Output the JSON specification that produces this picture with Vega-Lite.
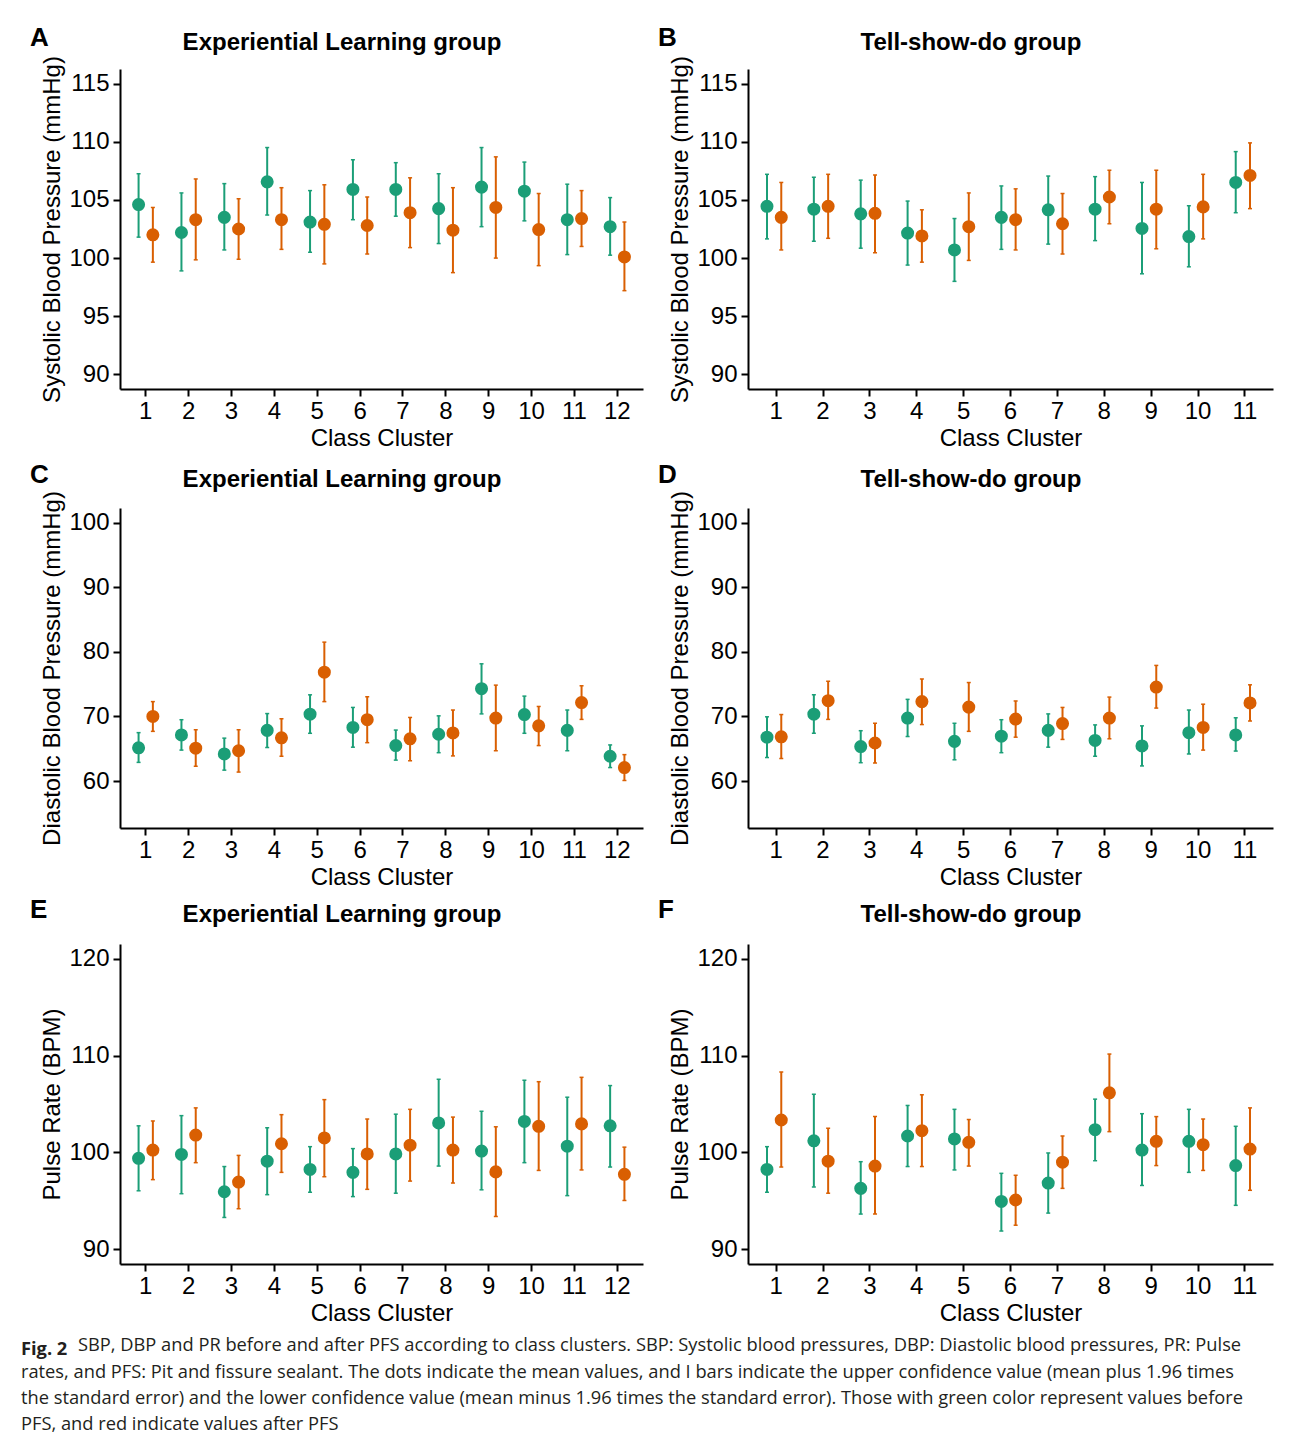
{
  "$schema": "https://vega.github.io/schema/vega-lite/v6.json",
  "padding": {"left": 20, "top": 24, "right": 5, "bottom": 5},
  "background": "white",
  "datasets": {
    "d": [
      {"p":"A","c":1,"t":"Before","m":104.6,"lo":101.8,"hi":107.25},{"p":"A","c":1,"t":"After","m":102.0,"lo":99.65,"hi":104.35},
      {"p":"A","c":2,"t":"Before","m":102.2,"lo":98.9,"hi":105.6},{"p":"A","c":2,"t":"After","m":103.3,"lo":99.85,"hi":106.8},
      {"p":"A","c":3,"t":"Before","m":103.5,"lo":100.7,"hi":106.4},{"p":"A","c":3,"t":"After","m":102.5,"lo":99.9,"hi":105.1},
      {"p":"A","c":4,"t":"Before","m":106.55,"lo":103.7,"hi":109.5},{"p":"A","c":4,"t":"After","m":103.3,"lo":100.75,"hi":106.05},
      {"p":"A","c":5,"t":"Before","m":103.1,"lo":100.5,"hi":105.8},{"p":"A","c":5,"t":"After","m":102.9,"lo":99.5,"hi":106.3},
      {"p":"A","c":6,"t":"Before","m":105.9,"lo":103.3,"hi":108.45},{"p":"A","c":6,"t":"After","m":102.8,"lo":100.35,"hi":105.25},
      {"p":"A","c":7,"t":"Before","m":105.9,"lo":103.6,"hi":108.2},{"p":"A","c":7,"t":"After","m":103.9,"lo":100.9,"hi":106.9},
      {"p":"A","c":8,"t":"Before","m":104.25,"lo":101.25,"hi":107.25},{"p":"A","c":8,"t":"After","m":102.4,"lo":98.75,"hi":106.05},
      {"p":"A","c":9,"t":"Before","m":106.1,"lo":102.7,"hi":109.5},{"p":"A","c":9,"t":"After","m":104.35,"lo":100.0,"hi":108.7},
      {"p":"A","c":10,"t":"Before","m":105.75,"lo":103.2,"hi":108.25},{"p":"A","c":10,"t":"After","m":102.45,"lo":99.35,"hi":105.55},
      {"p":"A","c":11,"t":"Before","m":103.3,"lo":100.3,"hi":106.35},{"p":"A","c":11,"t":"After","m":103.4,"lo":101.0,"hi":105.8},
      {"p":"A","c":12,"t":"Before","m":102.7,"lo":100.25,"hi":105.2},{"p":"A","c":12,"t":"After","m":100.1,"lo":97.2,"hi":103.1},

      {"p":"B","c":1,"t":"Before","m":104.45,"lo":101.65,"hi":107.2},{"p":"B","c":1,"t":"After","m":103.5,"lo":100.7,"hi":106.5},
      {"p":"B","c":2,"t":"Before","m":104.2,"lo":101.45,"hi":106.95},{"p":"B","c":2,"t":"After","m":104.45,"lo":101.7,"hi":107.2},
      {"p":"B","c":3,"t":"Before","m":103.8,"lo":100.85,"hi":106.7},{"p":"B","c":3,"t":"After","m":103.85,"lo":100.45,"hi":107.15},
      {"p":"B","c":4,"t":"Before","m":102.15,"lo":99.4,"hi":104.9},{"p":"B","c":4,"t":"After","m":101.9,"lo":99.65,"hi":104.15},
      {"p":"B","c":5,"t":"Before","m":100.7,"lo":98.0,"hi":103.4},{"p":"B","c":5,"t":"After","m":102.7,"lo":99.8,"hi":105.6},
      {"p":"B","c":6,"t":"Before","m":103.5,"lo":100.75,"hi":106.2},{"p":"B","c":6,"t":"After","m":103.3,"lo":100.7,"hi":105.95},
      {"p":"B","c":7,"t":"Before","m":104.15,"lo":101.2,"hi":107.05},{"p":"B","c":7,"t":"After","m":102.95,"lo":100.35,"hi":105.55},
      {"p":"B","c":8,"t":"Before","m":104.2,"lo":101.5,"hi":107.0},{"p":"B","c":8,"t":"After","m":105.25,"lo":102.95,"hi":107.55},
      {"p":"B","c":9,"t":"Before","m":102.55,"lo":98.65,"hi":106.5},{"p":"B","c":9,"t":"After","m":104.2,"lo":100.8,"hi":107.55},
      {"p":"B","c":10,"t":"Before","m":101.85,"lo":99.25,"hi":104.5},{"p":"B","c":10,"t":"After","m":104.4,"lo":101.65,"hi":107.2},
      {"p":"B","c":11,"t":"Before","m":106.5,"lo":103.9,"hi":109.15},{"p":"B","c":11,"t":"After","m":107.1,"lo":104.25,"hi":109.9},

      {"p":"C","c":1,"t":"Before","m":65.15,"lo":62.9,"hi":67.5},{"p":"C","c":1,"t":"After","m":70.0,"lo":67.7,"hi":72.3},
      {"p":"C","c":2,"t":"Before","m":67.15,"lo":64.8,"hi":69.5},{"p":"C","c":2,"t":"After","m":65.1,"lo":62.3,"hi":67.95},
      {"p":"C","c":3,"t":"Before","m":64.2,"lo":61.7,"hi":66.65},{"p":"C","c":3,"t":"After","m":64.7,"lo":61.4,"hi":67.95},
      {"p":"C","c":4,"t":"Before","m":67.85,"lo":65.2,"hi":70.45},{"p":"C","c":4,"t":"After","m":66.7,"lo":63.85,"hi":69.65},
      {"p":"C","c":5,"t":"Before","m":70.35,"lo":67.4,"hi":73.35},{"p":"C","c":5,"t":"After","m":76.85,"lo":72.3,"hi":81.5},
      {"p":"C","c":6,"t":"Before","m":68.3,"lo":65.25,"hi":71.4},{"p":"C","c":6,"t":"After","m":69.5,"lo":65.95,"hi":73.05},
      {"p":"C","c":7,"t":"Before","m":65.5,"lo":63.25,"hi":67.9},{"p":"C","c":7,"t":"After","m":66.55,"lo":63.15,"hi":69.85},
      {"p":"C","c":8,"t":"Before","m":67.25,"lo":64.4,"hi":70.1},{"p":"C","c":8,"t":"After","m":67.45,"lo":63.9,"hi":71.0},
      {"p":"C","c":9,"t":"Before","m":74.3,"lo":70.4,"hi":78.15},{"p":"C","c":9,"t":"After","m":69.75,"lo":64.7,"hi":74.85},
      {"p":"C","c":10,"t":"Before","m":70.3,"lo":67.4,"hi":73.15},{"p":"C","c":10,"t":"After","m":68.55,"lo":65.5,"hi":71.55},
      {"p":"C","c":11,"t":"Before","m":67.85,"lo":64.7,"hi":71.0},{"p":"C","c":11,"t":"After","m":72.15,"lo":69.55,"hi":74.75},
      {"p":"C","c":12,"t":"Before","m":63.85,"lo":62.1,"hi":65.6},{"p":"C","c":12,"t":"After","m":62.1,"lo":60.1,"hi":64.1},

      {"p":"D","c":1,"t":"Before","m":66.8,"lo":63.65,"hi":69.95},{"p":"D","c":1,"t":"After","m":66.85,"lo":63.5,"hi":70.3},
      {"p":"D","c":2,"t":"Before","m":70.35,"lo":67.4,"hi":73.35},{"p":"D","c":2,"t":"After","m":72.45,"lo":69.55,"hi":75.45},
      {"p":"D","c":3,"t":"Before","m":65.35,"lo":62.85,"hi":67.8},{"p":"D","c":3,"t":"After","m":65.9,"lo":62.8,"hi":68.95},
      {"p":"D","c":4,"t":"Before","m":69.75,"lo":66.9,"hi":72.65},{"p":"D","c":4,"t":"After","m":72.3,"lo":68.75,"hi":75.8},
      {"p":"D","c":5,"t":"Before","m":66.15,"lo":63.3,"hi":68.95},{"p":"D","c":5,"t":"After","m":71.45,"lo":67.7,"hi":75.25},
      {"p":"D","c":6,"t":"Before","m":66.95,"lo":64.4,"hi":69.5},{"p":"D","c":6,"t":"After","m":69.6,"lo":66.8,"hi":72.4},
      {"p":"D","c":7,"t":"Before","m":67.85,"lo":65.25,"hi":70.4},{"p":"D","c":7,"t":"After","m":68.9,"lo":66.45,"hi":71.4},
      {"p":"D","c":8,"t":"Before","m":66.3,"lo":63.85,"hi":68.7},{"p":"D","c":8,"t":"After","m":69.75,"lo":66.55,"hi":73.0},
      {"p":"D","c":9,"t":"Before","m":65.45,"lo":62.35,"hi":68.55},{"p":"D","c":9,"t":"After","m":74.55,"lo":71.3,"hi":77.9},
      {"p":"D","c":10,"t":"Before","m":67.5,"lo":64.2,"hi":71.0},{"p":"D","c":10,"t":"After","m":68.3,"lo":64.8,"hi":71.9},
      {"p":"D","c":11,"t":"Before","m":67.15,"lo":64.65,"hi":69.8},{"p":"D","c":11,"t":"After","m":72.1,"lo":69.3,"hi":74.9},

      {"p":"E","c":1,"t":"Before","m":99.4,"lo":96.05,"hi":102.75},{"p":"E","c":1,"t":"After","m":100.25,"lo":97.2,"hi":103.25},
      {"p":"E","c":2,"t":"Before","m":99.8,"lo":95.75,"hi":103.8},{"p":"E","c":2,"t":"After","m":101.8,"lo":98.95,"hi":104.6},
      {"p":"E","c":3,"t":"Before","m":95.95,"lo":93.3,"hi":98.55},{"p":"E","c":3,"t":"After","m":96.95,"lo":94.2,"hi":99.7},
      {"p":"E","c":4,"t":"Before","m":99.1,"lo":95.65,"hi":102.55},{"p":"E","c":4,"t":"After","m":100.9,"lo":97.95,"hi":103.9},
      {"p":"E","c":5,"t":"Before","m":98.25,"lo":95.9,"hi":100.6},{"p":"E","c":5,"t":"After","m":101.5,"lo":97.5,"hi":105.45},
      {"p":"E","c":6,"t":"Before","m":97.95,"lo":95.45,"hi":100.4},{"p":"E","c":6,"t":"After","m":99.85,"lo":96.2,"hi":103.45},
      {"p":"E","c":7,"t":"Before","m":99.85,"lo":95.8,"hi":103.95},{"p":"E","c":7,"t":"After","m":100.75,"lo":97.05,"hi":104.45},
      {"p":"E","c":8,"t":"Before","m":103.05,"lo":98.6,"hi":107.55},{"p":"E","c":8,"t":"After","m":100.25,"lo":96.85,"hi":103.65},
      {"p":"E","c":9,"t":"Before","m":100.15,"lo":96.15,"hi":104.25},{"p":"E","c":9,"t":"After","m":98.0,"lo":93.4,"hi":102.65},
      {"p":"E","c":10,"t":"Before","m":103.2,"lo":98.95,"hi":107.45},{"p":"E","c":10,"t":"After","m":102.7,"lo":98.15,"hi":107.3},
      {"p":"E","c":11,"t":"Before","m":100.65,"lo":95.55,"hi":105.7},{"p":"E","c":11,"t":"After","m":102.95,"lo":98.2,"hi":107.75},
      {"p":"E","c":12,"t":"Before","m":102.75,"lo":98.5,"hi":106.9},{"p":"E","c":12,"t":"After","m":97.75,"lo":95.05,"hi":100.55},

      {"p":"F","c":1,"t":"Before","m":98.25,"lo":95.9,"hi":100.6},{"p":"F","c":1,"t":"After","m":103.35,"lo":98.5,"hi":108.3},
      {"p":"F","c":2,"t":"Before","m":101.2,"lo":96.45,"hi":106.0},{"p":"F","c":2,"t":"After","m":99.1,"lo":95.8,"hi":102.5},
      {"p":"F","c":3,"t":"Before","m":96.3,"lo":93.65,"hi":99.05},{"p":"F","c":3,"t":"After","m":98.6,"lo":93.65,"hi":103.7},
      {"p":"F","c":4,"t":"Before","m":101.7,"lo":98.55,"hi":104.85},{"p":"F","c":4,"t":"After","m":102.25,"lo":98.55,"hi":105.95},
      {"p":"F","c":5,"t":"Before","m":101.4,"lo":98.2,"hi":104.45},{"p":"F","c":5,"t":"After","m":101.05,"lo":98.6,"hi":103.4},
      {"p":"F","c":6,"t":"Before","m":94.95,"lo":91.9,"hi":97.85},{"p":"F","c":6,"t":"After","m":95.1,"lo":92.5,"hi":97.65},
      {"p":"F","c":7,"t":"Before","m":96.85,"lo":93.75,"hi":99.95},{"p":"F","c":7,"t":"After","m":99.0,"lo":96.3,"hi":101.7},
      {"p":"F","c":8,"t":"Before","m":102.35,"lo":99.15,"hi":105.5},{"p":"F","c":8,"t":"After","m":106.15,"lo":102.15,"hi":110.15},
      {"p":"F","c":9,"t":"Before","m":100.25,"lo":96.6,"hi":104.0},{"p":"F","c":9,"t":"After","m":101.15,"lo":98.65,"hi":103.7},
      {"p":"F","c":10,"t":"Before","m":101.15,"lo":97.95,"hi":104.45},{"p":"F","c":10,"t":"After","m":100.8,"lo":98.15,"hi":103.45},
      {"p":"F","c":11,"t":"Before","m":98.65,"lo":94.55,"hi":102.7},{"p":"F","c":11,"t":"After","m":100.35,"lo":96.1,"hi":104.6}
    ]
  },
  "data": {"name": "d"},
  "title": {
    "text": "Fig. 2",
    "subtitle": [
      "\u200b\u00a0\u00a0\u00a0\u00a0\u00a0\u00a0\u00a0\u00a0\u00a0\u00a0\u00a0\u00a0SBP, DBP and PR before and after PFS according to class clusters. SBP: Systolic blood pressures, DBP: Diastolic blood pressures, PR: Pulse",
      "rates, and PFS: Pit and fissure sealant. The dots indicate the mean values, and I bars indicate the upper confidence value (mean plus 1.96 times",
      "the standard error) and the lower confidence value (mean minus 1.96 times the standard error). Those with green color represent values before",
      "PFS, and red indicate values after PFS"
    ],
    "orient": "bottom",
    "anchor": "start",
    "frame": "bounds",
    "font": "Open Sans",
    "fontSize": 18.3,
    "fontWeight": "bold",
    "color": "#231f20",
    "subtitleFont": "Open Sans",
    "subtitleFontSize": 18.3,
    "subtitleColor": "#231f20",
    "subtitleLineHeight": 26.3,
    "subtitlePadding": -21.5,
    "offset": 15.5,
    "dx": -9
  },
  "spacing": 8,
  "vconcat": [
    {
      "spacing": 12,
      "vconcat": [
        {
          "spacing": 14,
          "hconcat": [
            {
              "title": {"text": "A", "anchor": "start", "frame": "bounds", "fontSize": 26, "offset": -20, "dx": -11},
              "hconcat": [{
                "width": 523, "height": 320,
                "title": {"text": "Experiential Learning group", "anchor": "middle", "frame": "bounds", "offset": 1},
                "transform": [{"filter": "datum.p == 'A'"}],
                "encoding": {
                  "x": {"field": "c", "type": "ordinal", "scale": {"type": "band", "paddingInner": 0, "paddingOuter": 0.1}, "axis": {"title": "Class Cluster", "labelAngle": 0}},
                  "xOffset": {"field": "t", "type": "nominal", "scale": {"type": "point", "padding": 1.5, "domain": ["Before", "After"]}},
                  "color": {"field": "t", "type": "nominal", "scale": {"domain": ["Before", "After"], "range": ["#1B9E77", "#D95F02"]}, "legend": null}
                },
                "layer": [
                  {"mark": {"type": "rule", "strokeWidth": 2}, "encoding": {"y": {"field": "lo", "type": "quantitative", "scale": {"domain": [88.75, 116.25], "nice": false, "zero": false}, "axis": {"title": "Systolic Blood Pressure (mmHg)", "values": [90, 95, 100, 105, 110, 115]}}, "y2": {"field": "hi"}}},
                  {"mark": {"type": "tick", "size": 4, "thickness": 1.5, "opacity": 1}, "encoding": {"y": {"field": "lo", "type": "quantitative"}}},
                  {"mark": {"type": "tick", "size": 4, "thickness": 1.5, "opacity": 1}, "encoding": {"y": {"field": "hi", "type": "quantitative"}}},
                  {"mark": {"type": "circle", "size": 170, "opacity": 1}, "encoding": {"y": {"field": "m", "type": "quantitative"}}}
                ]
              }]
            },
            {
              "title": {"text": "B", "anchor": "start", "frame": "bounds", "fontSize": 26, "offset": -20, "dx": -11},
              "hconcat": [{
                "width": 525, "height": 320,
                "title": {"text": "Tell-show-do group", "anchor": "middle", "frame": "bounds", "offset": 1},
                "transform": [{"filter": "datum.p == 'B'"}],
                "encoding": {
                  "x": {"field": "c", "type": "ordinal", "scale": {"type": "band", "paddingInner": 0, "paddingOuter": 0.1}, "axis": {"title": "Class Cluster", "labelAngle": 0}},
                  "xOffset": {"field": "t", "type": "nominal", "scale": {"type": "point", "padding": 1.5, "domain": ["Before", "After"]}},
                  "color": {"field": "t", "type": "nominal", "scale": {"domain": ["Before", "After"], "range": ["#1B9E77", "#D95F02"]}, "legend": null}
                },
                "layer": [
                  {"mark": {"type": "rule", "strokeWidth": 2}, "encoding": {"y": {"field": "lo", "type": "quantitative", "scale": {"domain": [88.75, 116.25], "nice": false, "zero": false}, "axis": {"title": "Systolic Blood Pressure (mmHg)", "values": [90, 95, 100, 105, 110, 115]}}, "y2": {"field": "hi"}}},
                  {"mark": {"type": "tick", "size": 4, "thickness": 1.5, "opacity": 1}, "encoding": {"y": {"field": "lo", "type": "quantitative"}}},
                  {"mark": {"type": "tick", "size": 4, "thickness": 1.5, "opacity": 1}, "encoding": {"y": {"field": "hi", "type": "quantitative"}}},
                  {"mark": {"type": "circle", "size": 170, "opacity": 1}, "encoding": {"y": {"field": "m", "type": "quantitative"}}}
                ]
              }]
            }
          ]
        },
        {
          "spacing": 14,
          "hconcat": [
            {
              "title": {"text": "C", "anchor": "start", "frame": "bounds", "fontSize": 26, "offset": -20, "dx": -11},
              "hconcat": [{
                "width": 523, "height": 320,
                "title": {"text": "Experiential Learning group", "anchor": "middle", "frame": "bounds", "offset": -1.5},
                "transform": [{"filter": "datum.p == 'C'"}],
                "encoding": {
                  "x": {"field": "c", "type": "ordinal", "scale": {"type": "band", "paddingInner": 0, "paddingOuter": 0.1}, "axis": {"title": "Class Cluster", "labelAngle": 0}},
                  "xOffset": {"field": "t", "type": "nominal", "scale": {"type": "point", "padding": 1.5, "domain": ["Before", "After"]}},
                  "color": {"field": "t", "type": "nominal", "scale": {"domain": ["Before", "After"], "range": ["#1B9E77", "#D95F02"]}, "legend": null}
                },
                "layer": [
                  {"mark": {"type": "rule", "strokeWidth": 2}, "encoding": {"y": {"field": "lo", "type": "quantitative", "scale": {"domain": [52.75, 102.25], "nice": false, "zero": false}, "axis": {"title": "Diastolic Blood Pressure (mmHg)", "values": [60, 70, 80, 90, 100]}}, "y2": {"field": "hi"}}},
                  {"mark": {"type": "tick", "size": 4, "thickness": 1.5, "opacity": 1}, "encoding": {"y": {"field": "lo", "type": "quantitative"}}},
                  {"mark": {"type": "tick", "size": 4, "thickness": 1.5, "opacity": 1}, "encoding": {"y": {"field": "hi", "type": "quantitative"}}},
                  {"mark": {"type": "circle", "size": 170, "opacity": 1}, "encoding": {"y": {"field": "m", "type": "quantitative"}}}
                ]
              }]
            },
            {
              "title": {"text": "D", "anchor": "start", "frame": "bounds", "fontSize": 26, "offset": -20, "dx": -11},
              "hconcat": [{
                "width": 525, "height": 320,
                "title": {"text": "Tell-show-do group", "anchor": "middle", "frame": "bounds", "offset": -1.5},
                "transform": [{"filter": "datum.p == 'D'"}],
                "encoding": {
                  "x": {"field": "c", "type": "ordinal", "scale": {"type": "band", "paddingInner": 0, "paddingOuter": 0.1}, "axis": {"title": "Class Cluster", "labelAngle": 0}},
                  "xOffset": {"field": "t", "type": "nominal", "scale": {"type": "point", "padding": 1.5, "domain": ["Before", "After"]}},
                  "color": {"field": "t", "type": "nominal", "scale": {"domain": ["Before", "After"], "range": ["#1B9E77", "#D95F02"]}, "legend": null}
                },
                "layer": [
                  {"mark": {"type": "rule", "strokeWidth": 2}, "encoding": {"y": {"field": "lo", "type": "quantitative", "scale": {"domain": [52.75, 102.25], "nice": false, "zero": false}, "axis": {"title": "Diastolic Blood Pressure (mmHg)", "values": [60, 70, 80, 90, 100]}}, "y2": {"field": "hi"}}},
                  {"mark": {"type": "tick", "size": 4, "thickness": 1.5, "opacity": 1}, "encoding": {"y": {"field": "lo", "type": "quantitative"}}},
                  {"mark": {"type": "tick", "size": 4, "thickness": 1.5, "opacity": 1}, "encoding": {"y": {"field": "hi", "type": "quantitative"}}},
                  {"mark": {"type": "circle", "size": 170, "opacity": 1}, "encoding": {"y": {"field": "m", "type": "quantitative"}}}
                ]
              }]
            }
          ]
        }
      ]
    },
    {
      "spacing": 14,
      "hconcat": [
        {
          "title": {"text": "E", "anchor": "start", "frame": "bounds", "fontSize": 26, "offset": -20, "dx": -11},
          "hconcat": [{
            "width": 523, "height": 320,
            "title": {"text": "Experiential Learning group", "anchor": "middle", "frame": "bounds", "offset": 17},
            "transform": [{"filter": "datum.p == 'E'"}],
            "encoding": {
              "x": {"field": "c", "type": "ordinal", "scale": {"type": "band", "paddingInner": 0, "paddingOuter": 0.1}, "axis": {"title": "Class Cluster", "labelAngle": 0}},
              "xOffset": {"field": "t", "type": "nominal", "scale": {"type": "point", "padding": 1.5, "domain": ["Before", "After"]}},
              "color": {"field": "t", "type": "nominal", "scale": {"domain": ["Before", "After"], "range": ["#1B9E77", "#D95F02"]}, "legend": null}
            },
            "layer": [
              {"mark": {"type": "rule", "strokeWidth": 2}, "encoding": {"y": {"field": "lo", "type": "quantitative", "scale": {"domain": [88.5, 121.5], "nice": false, "zero": false}, "axis": {"title": "Pulse Rate (BPM)", "values": [90, 100, 110, 120]}}, "y2": {"field": "hi"}}},
              {"mark": {"type": "tick", "size": 4, "thickness": 1.5, "opacity": 1}, "encoding": {"y": {"field": "lo", "type": "quantitative"}}},
              {"mark": {"type": "tick", "size": 4, "thickness": 1.5, "opacity": 1}, "encoding": {"y": {"field": "hi", "type": "quantitative"}}},
              {"mark": {"type": "circle", "size": 170, "opacity": 1}, "encoding": {"y": {"field": "m", "type": "quantitative"}}}
            ]
          }]
        },
        {
          "title": {"text": "F", "anchor": "start", "frame": "bounds", "fontSize": 26, "offset": -20, "dx": -11},
          "hconcat": [{
            "width": 525, "height": 320,
            "title": {"text": "Tell-show-do group", "anchor": "middle", "frame": "bounds", "offset": 17},
            "transform": [{"filter": "datum.p == 'F'"}],
            "encoding": {
              "x": {"field": "c", "type": "ordinal", "scale": {"type": "band", "paddingInner": 0, "paddingOuter": 0.1}, "axis": {"title": "Class Cluster", "labelAngle": 0}},
              "xOffset": {"field": "t", "type": "nominal", "scale": {"type": "point", "padding": 1.5, "domain": ["Before", "After"]}},
              "color": {"field": "t", "type": "nominal", "scale": {"domain": ["Before", "After"], "range": ["#1B9E77", "#D95F02"]}, "legend": null}
            },
            "layer": [
              {"mark": {"type": "rule", "strokeWidth": 2}, "encoding": {"y": {"field": "lo", "type": "quantitative", "scale": {"domain": [88.5, 121.5], "nice": false, "zero": false}, "axis": {"title": "Pulse Rate (BPM)", "values": [90, 100, 110, 120]}}, "y2": {"field": "hi"}}},
              {"mark": {"type": "tick", "size": 4, "thickness": 1.5, "opacity": 1}, "encoding": {"y": {"field": "lo", "type": "quantitative"}}},
              {"mark": {"type": "tick", "size": 4, "thickness": 1.5, "opacity": 1}, "encoding": {"y": {"field": "hi", "type": "quantitative"}}},
              {"mark": {"type": "circle", "size": 170, "opacity": 1}, "encoding": {"y": {"field": "m", "type": "quantitative"}}}
            ]
          }]
        }
      ]
    }
  ],
  "config": {
    "font": "Liberation Sans",
    "view": {"stroke": null},
    "axis": {
      "domainColor": "black", "domainWidth": 2, "tickColor": "black", "tickWidth": 2, "tickSize": 7,
      "labelFont": "Liberation Sans", "labelFontSize": 24, "labelColor": "black",
      "titleFont": "Liberation Sans", "titleFontSize": 24, "titleFontWeight": "normal", "titleColor": "black",
      "grid": false
    },
    "axisX": {"labelPadding": 3, "titlePadding": 3},
    "axisY": {"labelPadding": 4, "titlePadding": 4},
    "title": {"font": "Liberation Sans", "fontSize": 24, "fontWeight": "bold", "color": "black"}
  }
}
